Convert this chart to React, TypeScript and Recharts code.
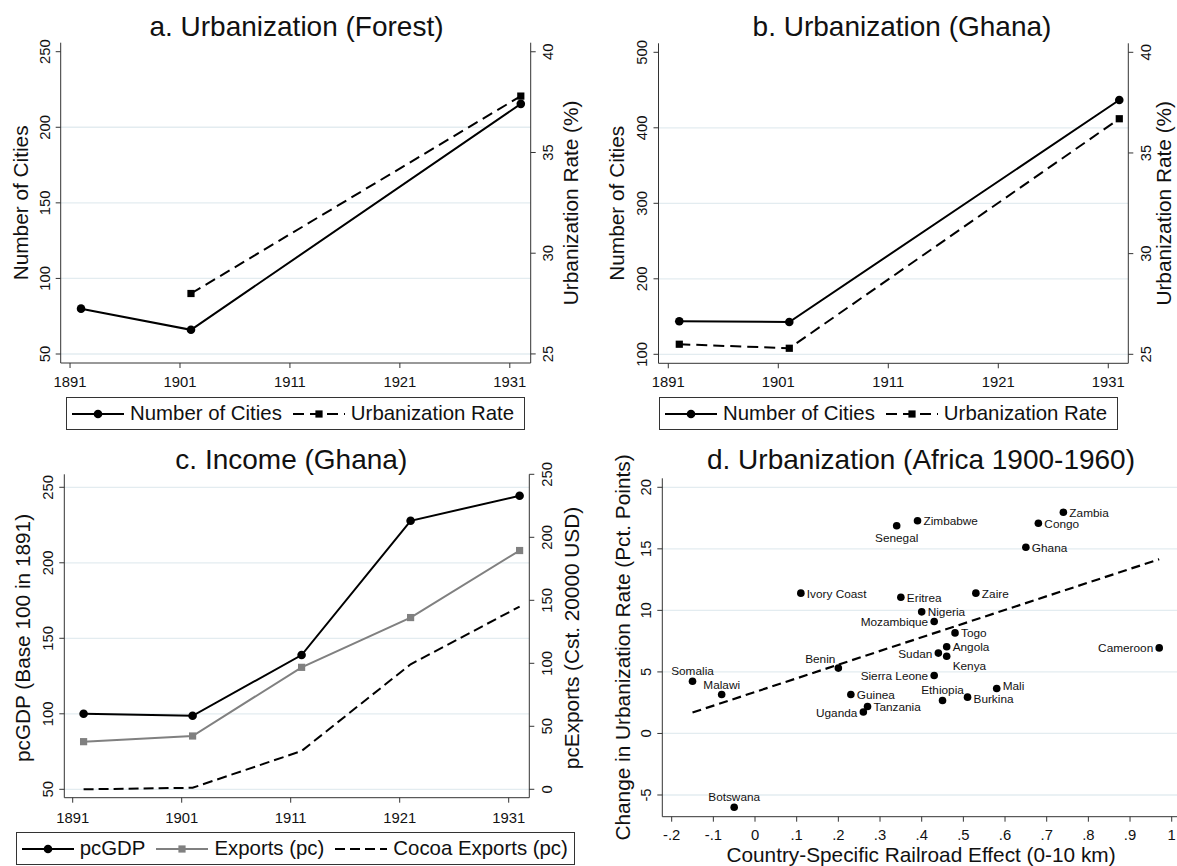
import {
  LineChart,
  Line,
  ScatterChart,
  Scatter,
  XAxis,
  YAxis,
  CartesianGrid,
  Legend,
} from "recharts";

// ===== DATA =====
const YEAR_TICKS = [1891, 1901, 1911, 1921, 1931];

// a. Urbanization (Forest)
const forestYears = [1892, 1902, 1932];
const forestCities = [80, 66, 215.5];
const forestRate = [null, 28, 37.8];

// b. Urbanization (Ghana)
const ghanaYears = [1892, 1902, 1932];
const ghanaCities = [143.7, 142.8, 436.8];
const ghanaRate = [25.5, 25.3, 36.7];

// c. Income (Ghana)
const incomeYears = [1892, 1902, 1912, 1922, 1932];
const pcGDP = [100, 98.7, 138.9, 227.8, 244.4];
const exportsPc = [37.8, 42.3, 96.8, 136.3, 189.5];
const cocoaPc = [0, 1.2, 30.4, 99.2, 145];

// d. Urbanization (Africa 1900-1960)
const countries = [
  "Somalia", "Malawi", "Botswana", "Ivory Coast", "Benin", "Guinea", "Uganda",
  "Tanzania", "Senegal", "Eritrea", "Zimbabwe", "Nigeria", "Mozambique",
  "Sierra Leone", "Sudan", "Ethiopia", "Angola", "Kenya", "Togo", "Burkina",
  "Zaire", "Mali", "Ghana", "Congo", "Zambia", "Cameroon",
];
const railEffect = [
  -0.15, -0.08, -0.05, 0.11, 0.2, 0.23, 0.26, 0.27, 0.34, 0.35, 0.39, 0.4, 0.43,
  0.43, 0.44, 0.45, 0.46, 0.46, 0.48, 0.51, 0.53, 0.58, 0.65, 0.68, 0.74, 0.97,
];
const urbChange = [
  4.24, 3.16, -6.0, 11.4, 5.31, 3.17, 1.74, 2.19, 16.88, 11.07, 17.28, 9.88, 9.09,
  4.71, 6.53, 2.68, 7.04, 6.27, 8.17, 2.95, 11.4, 3.65, 15.13, 17.08, 17.97, 6.95,
];
const fitX = [-0.15, 0.97];
const fitY = [1.7, 14.15];

// ticks / grid values
const citiesTicksA = [50, 100, 150, 200, 250];
const citiesTicksB = [100, 200, 300, 400, 500];
const rateTicks = [25, 30, 35, 40];
const gdpTicks = [50, 100, 150, 200, 250];
const exportTicks = [0, 50, 100, 150, 200, 250];
const effectTicks = [-0.2, -0.1, 0, 0.1, 0.2, 0.3, 0.4, 0.5, 0.6, 0.7, 0.8, 0.9, 1];
const changeTicks = [-5, 0, 5, 10, 15, 20];

// ===== STYLE =====
const FONT = "'Liberation Sans', Arial, Helvetica, sans-serif";
const AXIS = "#333";
const GRID = "#e3ecf0";
const GRAY = "#808080";
const XH = 30;
const TICK_FS = 14.8;

// plot frames, relative to each chart box
const GEO = {
  a: { x: 0, y: 0, w: 590, h: 440, L: 60.7, R: 530.7, T: 42.7, B: 363 },
  b: { x: 590, y: 0, w: 587, h: 440, L: 68.5, R: 538.3, T: 43.3, B: 363.3 },
  c: { x: 0, y: 440, w: 590, h: 426, L: 64.3, R: 529.3, T: 34.3, B: 357.7 },
  d: { x: 590, y: 440, w: 587, h: 426, L: 72.3, R: 587, T: 38.3, B: 376.7 },
};
type Geo = typeof GEO.a;

const marginOf = (g: Geo) => ({ top: g.T, left: 0, right: 0, bottom: g.h - g.B - XH });

// ===== TICKS =====
const decimal = (v: number) => {
  if (v === 0) return "0";
  if (Math.abs(v) >= 1) return String(v);
  return (v < 0 ? "-" : "") + "." + Math.round(Math.abs(v) * 10);
};

const YTick = ({ x, y, payload, side, fmt }: any) => {
  const bx = side === "right" ? x + 11.5 : x;
  return (
    <text
      x={bx}
      y={y}
      transform={`rotate(-90 ${bx} ${y})`}
      textAnchor="middle"
      fontSize={TICK_FS}
      fill="#111"
    >
      {fmt ? fmt(payload.value) : payload.value}
    </text>
  );
};

const XTick = ({ x, y, payload, fmt }: any) => (
  <text x={x} y={y} dy={14.5} textAnchor="middle" fontSize={TICK_FS} fill="#111">
    {fmt ? fmt(payload.value) : payload.value}
  </text>
);

// ===== MARKERS =====
const circleDot = (color: string) => (p: any) =>
  Number.isFinite(p.cy) && p.value != null ? (
    <circle key={p.index} cx={p.cx} cy={p.cy} r={4.3} fill={color} />
  ) : (
    <g key={p.index} />
  );

const squareDot = (color: string) => (p: any) =>
  Number.isFinite(p.cy) && p.value != null ? (
    <rect key={p.index} x={p.cx - 3.6} y={p.cy - 3.6} width={7.2} height={7.2} fill={color} />
  ) : (
    <g key={p.index} />
  );

// ===== LEGEND =====
const LegendBox = ({ payload }: any) => (
  <div
    style={{
      boxSizing: "border-box",
      width: "100%",
      height: 33,
      border: "1px solid #333",
      display: "flex",
      alignItems: "center",
      gap: 11,
      paddingLeft: 5,
      background: "#fff",
      fontFamily: FONT,
      fontSize: 20.4,
      color: "#111",
      whiteSpace: "nowrap",
    }}
  >
    {(payload || []).map((e: any) => (
      <div key={e.value} style={{ display: "flex", alignItems: "center" }}>
        <svg width={52} height={14}>
          <line
            x1={0}
            y1={7}
            x2={52}
            y2={7}
            stroke={e.color}
            strokeWidth={2}
            strokeDasharray={e.payload?.strokeDasharray}
          />
          {e.type === "circle" && <circle cx={26} cy={7} r={4.3} fill={e.color} />}
          {e.type === "square" && <rect x={22.4} y={3.4} width={7.2} height={7.2} fill={e.color} />}
        </svg>
        <span style={{ marginLeft: 6 }}>{e.value}</span>
      </div>
    ))}
  </div>
);

// keeps legend entries in series order
const inOrder = (names: string[]) => (item: any) => names.indexOf(item.value);

// ===== URBANIZATION PANEL (a, b) =====
interface UrbProps {
  g: Geo;
  title: string;
  titleX: number;
  rows: { year: number; cities: number; rate: number | null }[];
  xDomain: [number, number];
  lDomain: [number, number];
  rDomain: [number, number];
  lTicks: number[];
  grid: number[];
  legendLeft: number;
  leftTitleX: number;
  rightTitleGap: number;
}

function UrbPanel({
  g, title, titleX, rows, xDomain, lDomain, rDomain, lTicks, grid, legendLeft, leftTitleX, rightTitleGap,
}: UrbProps) {
  const midY = (g.T + g.B) / 2;
  const rightTitleX = g.R + rightTitleGap;
  return (
    <LineChart width={g.w} height={g.h} data={rows} margin={marginOf(g)}>
      <CartesianGrid vertical={false} yAxisId="l" horizontalValues={grid} stroke={GRID} strokeWidth={1.3} />
      <XAxis
        type="number"
        dataKey="year"
        domain={xDomain}
        ticks={YEAR_TICKS}
        interval={0}
        allowDataOverflow
        height={XH}
        tickSize={5}
        tickMargin={4}
        stroke={AXIS}
        tick={<XTick />}
      />
      <YAxis
        yAxisId="l"
        domain={lDomain}
        ticks={lTicks}
        interval={0}
        allowDataOverflow
        width={g.L}
        tickSize={5}
        tickMargin={6}
        stroke={AXIS}
        tick={(p: any) => <YTick {...p} side="left" />}
      />
      <YAxis
        yAxisId="r"
        orientation="right"
        domain={rDomain}
        ticks={rateTicks}
        interval={0}
        allowDataOverflow
        width={g.w - g.R}
        tickSize={5}
        tickMargin={6}
        stroke={AXIS}
        tick={(p: any) => <YTick {...p} side="right" />}
      />
      <Line
        yAxisId="l"
        dataKey="cities"
        name="Number of Cities"
        stroke="#000"
        strokeWidth={2}
        legendType="circle"
        dot={circleDot("#000")}
        isAnimationActive={false}
      />
      <Line
        yAxisId="r"
        dataKey="rate"
        name="Urbanization Rate"
        stroke="#000"
        strokeWidth={2}
        strokeDasharray="11 6"
        legendType="square"
        dot={squareDot("#000")}
        isAnimationActive={false}
      />
      <Legend
        layout="horizontal"
        verticalAlign="middle"
        align="center"
        itemSorter={inOrder(["Number of Cities", "Urbanization Rate"])}
        wrapperStyle={{ left: legendLeft, top: 397, width: 459, height: 33 }}
        content={<LegendBox />}
      />
      <text x={titleX} y={36} textAnchor="middle" fontSize={28} fill="#111">
        {title}
      </text>
      <text
        x={leftTitleX}
        y={midY}
        transform={`rotate(-90 ${leftTitleX} ${midY})`}
        textAnchor="middle"
        fontSize={20.8}
        fill="#111"
      >
        Number of Cities
      </text>
      <text
        x={rightTitleX}
        y={midY}
        transform={`rotate(-90 ${rightTitleX} ${midY})`}
        textAnchor="middle"
        fontSize={20.8}
        fill="#111"
      >
        Urbanization Rate (%)
      </text>
    </LineChart>
  );
}

// ===== INCOME PANEL (c) =====
function IncomePanel() {
  const g = GEO.c;
  const rows = incomeYears.map((year, i) => ({
    year,
    gdp: pcGDP[i],
    exports: exportsPc[i],
    cocoa: cocoaPc[i],
  }));
  const midY = 198;
  return (
    <LineChart width={g.w} height={g.h} data={rows} margin={marginOf(g)}>
      <CartesianGrid vertical={false} yAxisId="l" horizontalValues={gdpTicks} stroke={GRID} strokeWidth={1.3} />
      <XAxis
        type="number"
        dataKey="year"
        domain={[1890.23, 1932.89]}
        ticks={YEAR_TICKS}
        interval={0}
        allowDataOverflow
        height={XH}
        tickSize={5}
        tickMargin={6}
        stroke={AXIS}
        tick={<XTick />}
      />
      <YAxis
        yAxisId="l"
        domain={[44.44, 258.6]}
        ticks={gdpTicks}
        interval={0}
        allowDataOverflow
        width={g.L}
        tickSize={5}
        tickMargin={6}
        stroke={AXIS}
        tick={(p: any) => <YTick {...p} side="left" />}
      />
      <YAxis
        yAxisId="r"
        orientation="right"
        domain={[-6.67, 250]}
        ticks={exportTicks}
        interval={0}
        allowDataOverflow
        width={g.w - g.R}
        tickSize={5}
        tickMargin={6}
        stroke={AXIS}
        tick={(p: any) => <YTick {...p} side="right" />}
      />
      <Line
        yAxisId="l"
        dataKey="gdp"
        name="pcGDP"
        stroke="#000"
        strokeWidth={2}
        legendType="circle"
        dot={circleDot("#000")}
        isAnimationActive={false}
      />
      <Line
        yAxisId="r"
        dataKey="exports"
        name="Exports (pc)"
        stroke={GRAY}
        strokeWidth={2}
        legendType="square"
        dot={squareDot(GRAY)}
        isAnimationActive={false}
      />
      <Line
        yAxisId="r"
        dataKey="cocoa"
        name="Cocoa Exports (pc)"
        stroke="#000"
        strokeWidth={2}
        strokeDasharray="10 5"
        legendType="line"
        dot={false}
        isAnimationActive={false}
      />
      <Legend
        layout="horizontal"
        verticalAlign="middle"
        align="center"
        itemSorter={inOrder(["pcGDP", "Exports (pc)", "Cocoa Exports (pc)"])}
        wrapperStyle={{ left: 15.7, top: 392.3, width: 559, height: 33 }}
        content={<LegendBox />}
      />
      <text x={291.3} y={29} textAnchor="middle" fontSize={28} fill="#111">
        c. Income (Ghana)
      </text>
      <text x={30} y={midY} transform={`rotate(-90 30 ${midY})`} textAnchor="middle" fontSize={20.8} fill="#111">
        pcGDP (Base 100 in 1891)
      </text>
      <text x={579} y={midY} transform={`rotate(-90 579 ${midY})`} textAnchor="middle" fontSize={20.8} fill="#111">
        pcExports (Cst. 20000 USD)
      </text>
    </LineChart>
  );
}

// ===== SCATTER PANEL (d) =====
const LABEL_SIDE: Record<string, string> = {
  Somalia: "top",
  Malawi: "top",
  Botswana: "top",
  Ethiopia: "top",
  Benin: "topleft",
  Senegal: "bottom",
  Kenya: "bottomright",
  Mali: "upright",
  Burkina: "downright",
  Mozambique: "left",
  "Sierra Leone": "left",
  Sudan: "left",
  Uganda: "left",
  Cameroon: "left",
};

const CountryDot = ({ cx, cy, payload }: any) => {
  const side = LABEL_SIDE[payload.name] ?? "right";
  let tx = cx + 6;
  let ty = cy + 4.5;
  let anchor = "start";
  if (side === "left") {
    tx = cx - 6;
    anchor = "end";
  } else if (side === "top") {
    tx = cx;
    ty = cy - 6;
    anchor = "middle";
  } else if (side === "bottom") {
    tx = cx;
    ty = cy + 16.5;
    anchor = "middle";
  } else if (side === "topleft") {
    tx = cx - 3;
    ty = cy - 5;
    anchor = "end";
  } else if (side === "bottomright") {
    ty = cy + 14;
  } else if (side === "upright") {
    ty = cy + 1;
  } else if (side === "downright") {
    ty = cy + 6;
  }
  return (
    <g>
      <circle cx={cx} cy={cy} r={3.8} fill="#000" />
      <text x={tx} y={ty} textAnchor={anchor} fontSize={11.8} fill="#111">
        {payload.name}
      </text>
    </g>
  );
};

function AfricaPanel() {
  const g = GEO.d;
  const points = countries.map((name, i) => ({ name, x: railEffect[i], y: urbChange[i] }));
  const fit = fitX.map((x, i) => ({ x, y: fitY[i] }));
  const midY = (g.T + g.B) / 2;
  return (
    <ScatterChart width={g.w} height={g.h} margin={marginOf(g)}>
      <CartesianGrid vertical={false} horizontalValues={changeTicks} stroke={GRID} strokeWidth={1.3} />
      <XAxis
        type="number"
        dataKey="x"
        domain={[-0.2225, 1.0127]}
        ticks={effectTicks}
        interval={0}
        allowDataOverflow
        height={XH}
        tickSize={5}
        tickMargin={4}
        stroke={AXIS}
        tick={<XTick fmt={decimal} />}
      />
      <YAxis
        type="number"
        dataKey="y"
        domain={[-6.763, 20.73]}
        ticks={changeTicks}
        interval={0}
        allowDataOverflow
        width={g.L}
        tickSize={5}
        tickMargin={6}
        stroke={AXIS}
        tick={(p: any) => <YTick {...p} side="left" />}
      />
      <Scatter
        data={fit}
        line={{ stroke: "#000", strokeWidth: 2.2, strokeDasharray: "9 5" }}
        shape={() => <g />}
        legendType="none"
        isAnimationActive={false}
      />
      <Scatter data={points} shape={<CountryDot />} isAnimationActive={false} />
      <text x={331} y={29} textAnchor="middle" fontSize={28} fill="#111">
        d. Urbanization (Africa 1900-1960)
      </text>
      <text
        x={39.6}
        y={midY}
        transform={`rotate(-90 39.6 ${midY})`}
        textAnchor="middle"
        fontSize={20.8}
        fill="#111"
      >
        Change in Urbanization Rate (Pct. Points)
      </text>
      <text x={331} y={422} textAnchor="middle" fontSize={20.8} fill="#111">
        Country-Specific Railroad Effect (0-10 km)
      </text>
    </ScatterChart>
  );
}

// ===== PAGE =====
export default function App() {
  const forestRows = forestYears.map((year, i) => ({
    year,
    cities: forestCities[i],
    rate: forestRate[i],
  }));
  const ghanaRows = ghanaYears.map((year, i) => ({
    year,
    cities: ghanaCities[i],
    rate: ghanaRate[i],
  }));

  const place = (g: Geo) => ({ position: "absolute" as const, left: g.x, top: g.y });

  return (
    <div
      style={{
        position: "absolute",
        left: 0,
        top: 0,
        width: 1177,
        height: 866,
        background: "#fff",
        overflow: "hidden",
        fontFamily: FONT,
      }}
    >
      <div style={place(GEO.a)}>
        <UrbPanel
          g={GEO.a}
          title="a. Urbanization (Forest)"
          titleX={296.5}
          rows={forestRows}
          xDomain={[1890.15, 1932.9]}
          lDomain={[44.05, 255.95]}
          rDomain={[24.55, 40.45]}
          lTicks={citiesTicksA}
          grid={[50, 100, 150, 200]}
          legendLeft={66}
          leftTitleX={28}
          rightTitleGap={47}
        />
      </div>
      <div style={place(GEO.b)}>
        <UrbPanel
          g={GEO.b}
          title="b. Urbanization (Ghana)"
          titleX={312}
          rows={ghanaRows}
          xDomain={[1890.11, 1932.82]}
          lDomain={[88.08, 511.92]}
          rDomain={[24.553, 40.447]}
          lTicks={citiesTicksB}
          grid={[100, 200, 300, 400]}
          legendLeft={69}
          leftTitleX={34}
          rightTitleGap={43}
        />
      </div>
      <div style={place(GEO.c)}>
        <IncomePanel />
      </div>
      <div style={place(GEO.d)}>
        <AfricaPanel />
      </div>
    </div>
  );
}
